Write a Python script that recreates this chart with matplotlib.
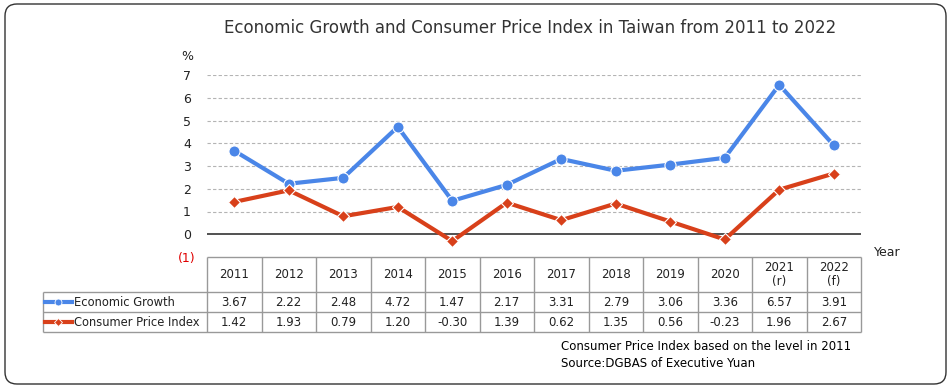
import matplotlib
matplotlib.use("Agg")
import matplotlib.pyplot as plt
from matplotlib.patches import FancyBboxPatch
import numpy as np

# ---------------- data ----------------
years = ["2011", "2012", "2013", "2014", "2015", "2016", "2017", "2018",
         "2019", "2020", "2021\n(r)", "2022\n(f)"]
growth = [3.67, 2.22, 2.48, 4.72, 1.47, 2.17, 3.31, 2.79, 3.06, 3.36, 6.57, 3.91]
cpi = [1.42, 1.93, 0.79, 1.20, -0.30, 1.39, 0.62, 1.35, 0.56, -0.23, 1.96, 2.67]
series_names = ["Economic Growth", "Consumer Price Index"]
y_ticks = [-1, 0, 1, 2, 3, 4, 5, 6, 7]
y_tick_labels = ["(1)", "0", "1", "2", "3", "4", "5", "6", "7"]
title = "Economic Growth and Consumer Price Index in Taiwan from 2011 to 2022"
notes = ["Consumer Price Index based on the level in 2011",
         "Source:DGBAS of Executive Yuan"]

BLUE = "#4a86e8"
RED = "#d8401a"
GRID = "#b4b4b4"
BORDER = "#999999"
TXT = "#222222"

plt.rcParams["font.family"] = ["DejaVu Sans"]

W, H = 951, 389
fig = plt.figure(figsize=(W / 100, H / 100), dpi=100)


def fx(px):
    return px / W


def fy(py):
    return 1 - py / H


# outer rounded frame
frame = FancyBboxPatch((5 / 100, (H - 384) / 100), 941 / 100, 380 / 100,
                       boxstyle="round,pad=0,rounding_size=0.12",
                       transform=fig.dpi_scale_trans, fill=False,
                       edgecolor="#333333", linewidth=1.0)
fig.patches.append(frame)

# ---------------- chart ----------------
ax = fig.add_axes([fx(207), fy(257), fx(861) - fx(207), fy(75) - fy(257)])
x = np.arange(len(years))
ax.set_xlim(-0.5, len(years) - 0.5)
ax.set_ylim(-1, 7)
for v in range(1, 8):
    ax.axhline(v, color=GRID, lw=0.8, ls=(0, (3, 2)), zorder=1)
ax.axhline(0, color="#333333", lw=1.2, zorder=1)
ax.plot(x, growth, color=BLUE, lw=3, marker="o", ms=8, mec="white",
        mew=0.8, zorder=3, solid_joinstyle="round")
ax.plot(x, cpi, color=RED, lw=3, marker="D", ms=6, mec="white",
        mew=0.8, zorder=3, solid_joinstyle="round")
for s in ax.spines.values():
    s.set_visible(False)
ax.set_xticks([])
ax.set_yticks(y_ticks)
ax.set_yticklabels(y_tick_labels, fontsize=9, color=TXT)
ax.get_yticklabels()[0].set_color("#e00000")
for lab in ax.get_yticklabels():
    lab.set_horizontalalignment("center")
ax.tick_params(axis="y", length=0, pad=14.4)
ax.patch.set_alpha(0)

fig.text(fx(187), fy(57), "%", ha="center", va="center", fontsize=9, color=TXT)
fig.text(fx(887), fy(253), "Year", ha="center", va="center", fontsize=9, color=TXT)
fig.text(fx(530), fy(28), title, ha="center", va="center", fontsize=12, color="#333333")

# ---------------- table ----------------
tax = fig.add_axes([fx(207), fy(332), fx(861) - fx(207), fy(257) - fy(332)])
tax.set_xlim(-0.5, len(years) - 0.5)
tax.set_ylim(75, 0)
tax.axis("off")
colw = (861 - 207) / len(years)
xL = -0.5 - (207 - 43) / colw
rows = [0, 35, 55, 75]
kw = dict(color=BORDER, lw=1, clip_on=False, solid_capstyle="butt")
# header row
tax.plot([-0.5, len(years) - 0.5], [0, 0], **kw)
for k in range(len(years) + 1):
    tax.plot([-0.5 + k, -0.5 + k], [0, 75], **kw)
for r in rows[1:]:
    tax.plot([xL, len(years) - 0.5], [r, r], **kw)
tax.plot([xL, xL], [35, 75], **kw)

for i, yr in enumerate(years):
    tax.text(i, 17.5, yr, ha="center", va="center", fontsize=8.5, color=TXT,
             linespacing=1.1)
    tax.text(i, 45, f"{growth[i]:.2f}", ha="center", va="center", fontsize=8.5, color=TXT)
    tax.text(i, 65, f"{cpi[i]:.2f}", ha="center", va="center", fontsize=8.5, color=TXT)

for name, col, mk, ms, yc in [(series_names[0], BLUE, "o", 5, 45),
                              (series_names[1], RED, "D", 4, 65)]:
    x0 = xL + 1.5 / colw
    x1 = xL + 29 / colw
    tax.plot([x0, x1], [yc, yc], color=col, lw=3, clip_on=False)
    tax.plot([(x0 + x1) / 2], [yc], color=col, marker=mk, ms=ms, mec="white",
             mew=0.6, clip_on=False)
    tax.text(xL + 31 / colw, yc, name, ha="left", va="center", fontsize=8.3, color=TXT)

for j, n in enumerate(notes):
    fig.text(fx(561), fy(347 + 16.5 * j), n, ha="left", va="center", fontsize=8.5,
             color="black")

fig.savefig("out.png", dpi=100)
